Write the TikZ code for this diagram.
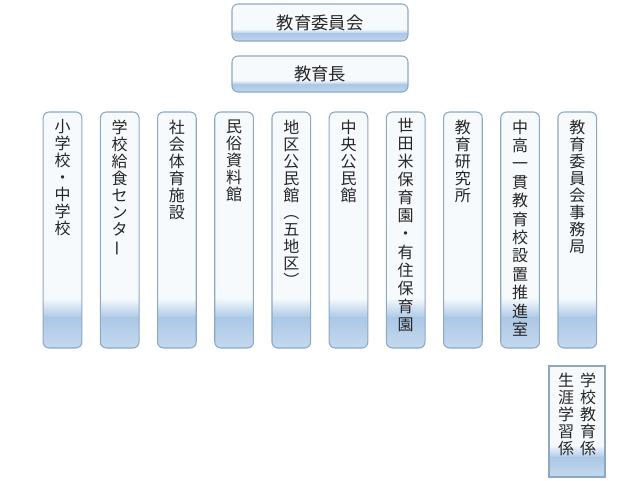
\documentclass[tikz,border=0pt]{standalone}
\usepackage{fontspec}
\setmainfont{Noto Sans CJK JP}
\usepackage{graphicx}
\usetikzlibrary{calc}
\definecolor{bord}{HTML}{8EA8C2}
\definecolor{bl}{HTML}{ABC8E6}
\definecolor{bl2}{HTML}{C6DAEE}
\definecolor{topc}{HTML}{F7FAFD}
\definecolor{txt}{HTML}{262626}
\newcommand{\vbar}{\rotatebox[origin=c]{90}{ー}}
\tikzset{
  shadebox/.style={draw=bord, line width=0.8pt, inner sep=0pt,
    path picture={
      \fill[topc, sharp corners] (path picture bounding box.south west) rectangle (path picture bounding box.north east);
      \shade[sharp corners, top color=topc, bottom color=bl] ($(path picture bounding box.south west)+(0pt,#1*0.6)$) rectangle ($(path picture bounding box.south east)+(0pt,#1)$);
      \shade[sharp corners, top color=bl, bottom color=bl2] ($(path picture bounding box.south west)+(0pt,-1pt)$) rectangle ($(path picture bounding box.south east)+(0pt,#1*0.6+0.3pt)$);
    }},
  colbox/.style={shadebox=37.5pt, rounded corners=4.5pt, minimum width=29pt, minimum height=177pt},
  headbox/.style={shadebox=9pt, rounded corners=4.5pt, minimum width=132pt},
  subbox/.style={shadebox=24pt, minimum width=42pt, minimum height=83.25pt},
  vt/.style={anchor=north, inner sep=0pt, align=center, text=txt, font=\fontsize{12}{#1}\selectfont},
  ht/.style={inner sep=0pt, text=txt, font=\fontsize{13}{15}\selectfont}
}
\begin{document}
\begin{tikzpicture}[x=0.75pt, y=-0.75pt]
\useasboundingbox (0,0) rectangle (640,480);
% head boxes
\node[headbox, minimum height=27.75pt] (h1) at (320,22.5) {};
\node[ht] (h1t) at (h1.center) {教育委員会};
\node[headbox, minimum height=27pt] (h2) at (320,74) {};
\node[ht] (h2t) at (h2.center) {教育長};
% columns
\foreach \i/\cx in {1/62.5,2/119.7,3/176.9,4/234.1,5/291.3,6/348.5,7/405.7,8/462.9,9/520.1,10/577.3}{
  \node[colbox] (c\i) at (\cx,230) {};
}
\node[vt=12.75pt] (t1) at ($(c1.north)+(0,8)$) {小\\学\\校\\・\\中\\学\\校};
\node[vt=12.75pt] (t2) at ($(c2.north)+(0,8)$) {学\\校\\給\\食\\セ\\ン\\タ\\\vbar};
\node[vt=12.75pt] (t3) at ($(c3.north)+(0,8)$) {社\\会\\体\\育\\施\\設};
\node[vt=12.75pt] (t4) at ($(c4.north)+(0,8)$) {民\\俗\\資\\料\\館};
\node[vt=12.75pt] (t5) at ($(c5.north)+(0,8)$) {地\\区\\公\\民\\館\\︵\\五\\地\\区\\︶};
\node[vt=12.75pt] (t6) at ($(c6.north)+(0,8)$) {中\\央\\公\\民\\館};
\node[vt=13.6pt] (t7) at ($(c7.north)+(0,6)$) {世\\田\\米\\保\\育\\園\\・\\有\\住\\保\\育\\園};
\node[vt=12.75pt] (t8) at ($(c8.north)+(0,8)$) {教\\育\\研\\究\\所};
\node[vt=13.8pt] (t9) at ($(c9.north)+(0,8)$) {中\\高\\一\\貫\\教\\育\\校\\設\\置\\推\\進\\室};
\node[vt=12.75pt] (t10) at ($(c10.north)+(0,8)$) {教\\育\\委\\員\\会\\事\\務\\局};
% sub box
\node[subbox] (s) at (577,421.5) {};
\node[vt=12.75pt] (s1) at (588,373) {学\\校\\教\\育\\係};
\node[vt=12.75pt] (s2) at (566,373) {生\\涯\\学\\習\\係};
\end{tikzpicture}
\end{document}
